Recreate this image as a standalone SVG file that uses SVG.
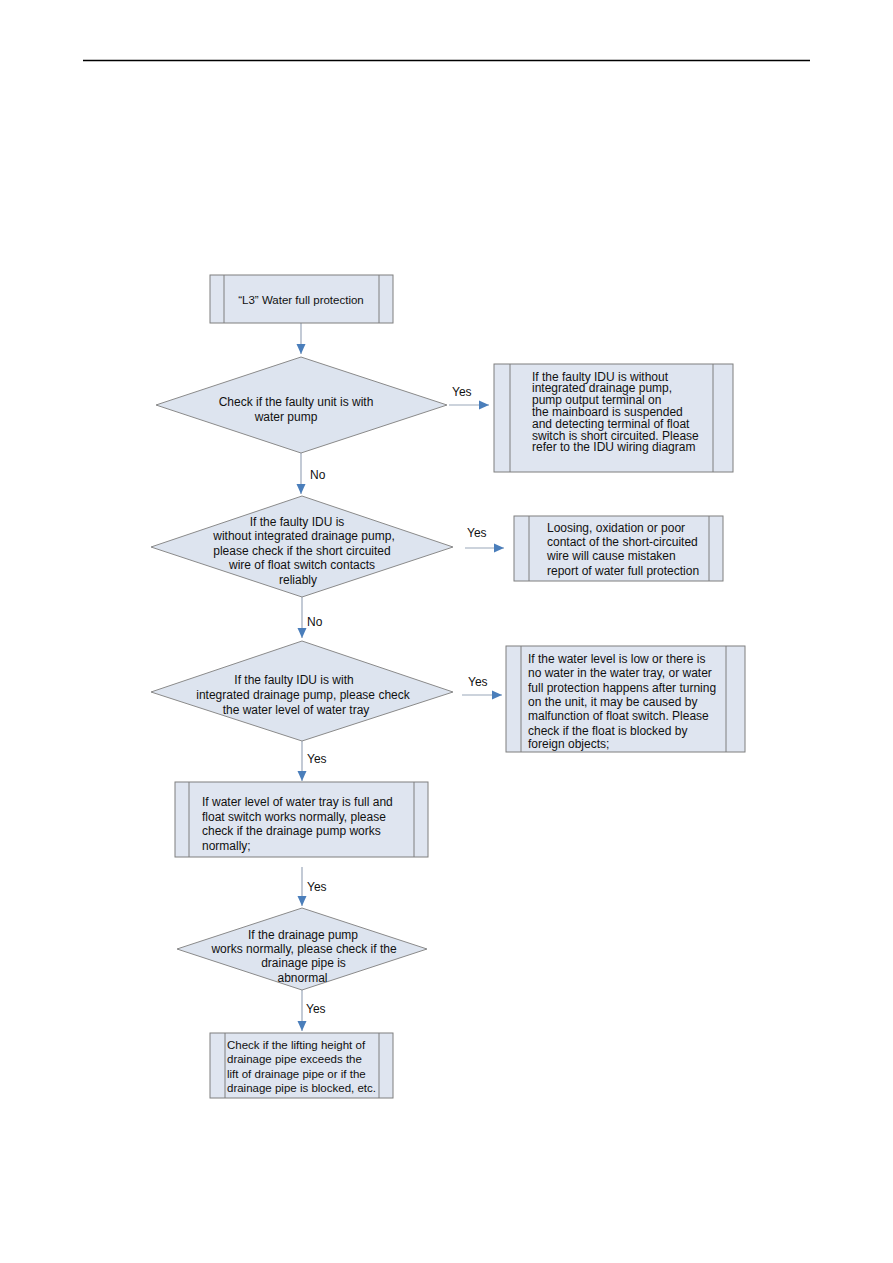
<svg xmlns="http://www.w3.org/2000/svg" width="893" height="1263" viewBox="0 0 893 1263">
<defs>
<style>
.box{fill:#dfe5f0;stroke:#7f7f7f;stroke-width:1}
.inner{stroke:#7f7f7f;stroke-width:1}
.dia{fill:#dde4ef;stroke:#8a8a8a;stroke-width:1}
.t{font-family:"Liberation Sans",Arial,sans-serif;font-size:12px;fill:#111}
.s{font-size:11.5px}
.c{text-anchor:middle}
.conn{stroke:#9aa7ba;stroke-width:1.2;fill:none}
</style>
<marker id="ah" markerUnits="userSpaceOnUse" markerWidth="10" markerHeight="10" viewBox="0 0 10 10" refX="10" refY="5" orient="auto">
<path d="M0,0.5 L10,5 L0,9.5 z" fill="#4a7ebb"/>
</marker>
</defs>
<rect width="893" height="1263" fill="#ffffff"/>
<line x1="83" y1="60.5" x2="810" y2="60.5" stroke="#000" stroke-width="1.5"/>

<g id="connectors">
<line class="conn" x1="301" y1="323" x2="301" y2="354" marker-end="url(#ah)"/>
<line class="conn" x1="301" y1="453" x2="301" y2="494" marker-end="url(#ah)"/>
<line class="conn" x1="302" y1="597" x2="302" y2="638" marker-end="url(#ah)"/>
<line class="conn" x1="302" y1="741" x2="302" y2="781" marker-end="url(#ah)"/>
<line class="conn" x1="302" y1="867" x2="302" y2="906" marker-end="url(#ah)"/>
<line class="conn" x1="302" y1="990" x2="302" y2="1031" marker-end="url(#ah)"/>
<line class="conn" x1="449" y1="405" x2="489" y2="405" marker-end="url(#ah)"/>
<line class="conn" x1="465" y1="548" x2="504" y2="548" marker-end="url(#ah)"/>
<line class="conn" x1="462" y1="695" x2="502" y2="695" marker-end="url(#ah)"/>
<text class="t" x="452" y="396">Yes</text>
<text class="t" x="310" y="479">No</text>
<text class="t" x="467" y="537">Yes</text>
<text class="t" x="307" y="626">No</text>
<text class="t" x="468" y="686">Yes</text>
<text class="t" x="307" y="763">Yes</text>
<text class="t" x="307" y="891">Yes</text>
<text class="t" x="306" y="1013">Yes</text>
</g>

<g id="start">
<rect class="box" x="210" y="275" width="183" height="48"/>
<line class="inner" x1="224" y1="275" x2="224" y2="323"/>
<line class="inner" x1="379" y1="275" x2="379" y2="323"/>
<text class="t s c" x="301" y="304">“L3” Water full protection</text>
</g>

<g id="d1">
<polygon class="dia" points="301,357 447,405 301,453 156,405"/>
<text class="t c" x="296" y="406">Check if the faulty unit is with</text>
<text class="t c" x="286" y="421">water pump</text>
</g>

<g id="b2">
<rect class="box" x="494" y="364" width="239" height="108"/>
<line class="inner" x1="510" y1="364" x2="510" y2="472"/>
<line class="inner" x1="713" y1="364" x2="713" y2="472"/>
<text class="t" x="532" y="380.5">If the faulty IDU is without</text>
<text class="t" x="532" y="392.3">integrated drainage pump,</text>
<text class="t" x="532" y="404.1">pump output terminal on</text>
<text class="t" x="532" y="415.9">the mainboard is suspended</text>
<text class="t" x="532" y="427.7">and detecting terminal of float</text>
<text class="t" x="532" y="439.5">switch is short circuited. Please</text>
<text class="t" x="532" y="451.3">refer to the IDU wiring diagram</text>
</g>

<g id="d2">
<polygon class="dia" points="302,496 453,547 302,597 151,547"/>
<text class="t c" x="297" y="526">If the faulty IDU is</text>
<text class="t c" x="304" y="540.4">without integrated drainage pump,</text>
<text class="t c" x="302" y="554.8">please check if the short circuited</text>
<text class="t c" x="302" y="569.2">wire of float switch contacts</text>
<text class="t c" x="298" y="583.6">reliably</text>
</g>

<g id="b3">
<rect class="box" x="514" y="516" width="209" height="65"/>
<line class="inner" x1="529" y1="516" x2="529" y2="581"/>
<line class="inner" x1="709" y1="516" x2="709" y2="581"/>
<text class="t" x="547" y="531.5">Loosing, oxidation or poor</text>
<text class="t" x="547" y="545.9">contact of the short-circuited</text>
<text class="t" x="547" y="560.3">wire will cause mistaken</text>
<text class="t" x="547" y="574.7">report of water full protection</text>
</g>

<g id="d3">
<polygon class="dia" points="302,641 453,692 302,741 151,692"/>
<text class="t c" x="294" y="683.5">If the faulty IDU is with</text>
<text class="t c" x="303" y="698.5">integrated drainage pump, please check</text>
<text class="t c" x="296" y="713.5">the water level of water tray</text>
</g>

<g id="b4">
<rect class="box" x="506" y="646" width="239" height="106"/>
<line class="inner" x1="521" y1="646" x2="521" y2="752"/>
<line class="inner" x1="726" y1="646" x2="726" y2="752"/>
<text class="t" x="528" y="662.5">If the water level is low or there is</text>
<text class="t" x="528" y="677">no water in the water tray, or water</text>
<text class="t" x="528" y="691.5">full protection happens after turning</text>
<text class="t" x="528" y="705.5">on the unit, it may be caused by</text>
<text class="t" x="528" y="720">malfunction of float switch. Please</text>
<text class="t" x="528" y="734.5">check if the float is blocked by</text>
<text class="t" x="528" y="748">foreign objects;</text>
</g>

<g id="b5">
<rect class="box" x="175" y="782" width="253" height="75"/>
<line class="inner" x1="189" y1="782" x2="189" y2="857"/>
<line class="inner" x1="414" y1="782" x2="414" y2="857"/>
<text class="t" x="202" y="806">If water level of water tray is full and</text>
<text class="t" x="202" y="820.5">float switch works normally, please</text>
<text class="t" x="202" y="835">check if the drainage pump works</text>
<text class="t" x="202" y="849.5">normally;</text>
</g>

<g id="d4">
<polygon class="dia" points="302,908 427,949 302,990 177,949"/>
<text class="t c" x="303" y="938.5">If the drainage pump</text>
<text class="t c" x="304" y="952.5">works normally, please check if the</text>
<text class="t c" x="303.5" y="967">drainage pipe is</text>
<text class="t c" x="302.5" y="981.5">abnormal</text>
</g>

<g id="b7">
<rect class="box" x="210" y="1033" width="183" height="65"/>
<line class="inner" x1="225" y1="1033" x2="225" y2="1098"/>
<line class="inner" x1="379" y1="1033" x2="379" y2="1098"/>
<text class="t s" x="227" y="1048.5">Check if the lifting height of</text>
<text class="t s" x="227" y="1063">drainage pipe exceeds the</text>
<text class="t s" x="227" y="1077.5">lift of drainage pipe or if the</text>
<text class="t s" x="227" y="1092">drainage pipe is blocked, etc.</text>
</g>
</svg>
